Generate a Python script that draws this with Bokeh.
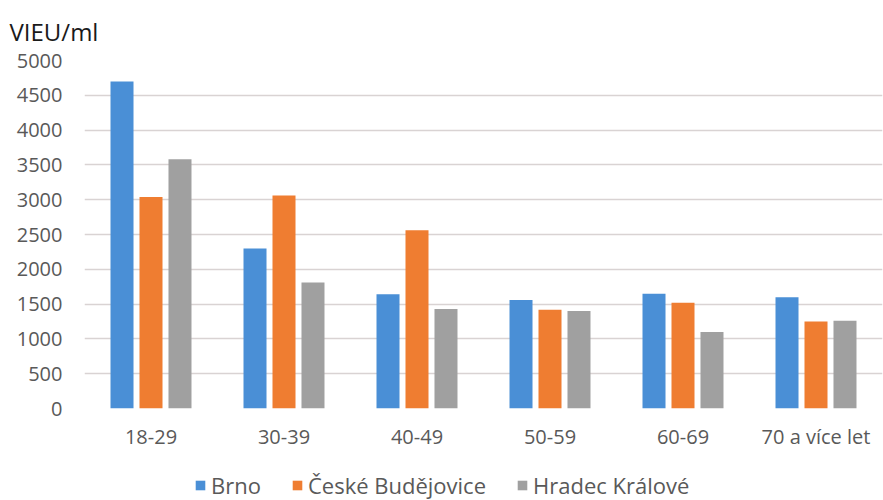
from bokeh.plotting import figure
from bokeh.layouts import column
from bokeh.models import (FactorRange, Range1d, ColumnDataSource, Legend, LegendItem,
                          SingleIntervalTicker)
from bokeh.transform import dodge
from bokeh.embed import file_html
from bokeh.resources import INLINE

# Age groups and mean antibody levels (VIEU/ml) per city
age_groups = ["18-29", "30-39", "40-49", "50-59", "60-69", "70 a více let"]
brno = [4700, 2300, 1640, 1560, 1650, 1600]
ceske_budejovice = [3040, 3060, 2560, 1420, 1520, 1250]
hradec_kralove = [3580, 1810, 1430, 1400, 1100, 1260]

series_names = ["Brno", "České Budějovice", "Hradec Králové"]
series_colors = ["#4A8FD6", "#EF7D31", "#A0A0A0"]

FONT = "Open Sans"
TICK_COLOR = "#595959"

source = ColumnDataSource(dict(
    age=age_groups,
    brno=brno,
    cb=ceske_budejovice,
    hk=hradec_kralove,
))

p = figure(
    width=883, height=452,
    x_range=FactorRange(*age_groups, range_padding=0),
    y_range=Range1d(0, 5000),
    output_backend="svg", toolbar_location=None,
    min_border_left=84, min_border_right=1, min_border_top=58, min_border_bottom=44,
    outline_line_color=None,
    title="VIEU/ml",
)

# unit caption above the value axis
p.title.align = "left"
p.title.offset = -75
p.title.text_font = FONT
p.title.text_font_size = "24px"
p.title.text_font_style = "normal"
p.title.text_color = "#1a1a1a"
p.title.standoff = 25

step = 0.218
bar_w = 0.173
for col, off, color in zip(["brno", "cb", "hk"], [-step, 0, step], series_colors):
    p.vbar(x=dodge("age", off, range=p.x_range), top=col, width=bar_w,
           source=source, fill_color=color, line_color=None)

# grid
p.xgrid.grid_line_color = None
p.ygrid.grid_line_color = "#D9D3D3"
p.ygrid.grid_line_width = 1.5

# y axis
p.yaxis.ticker = SingleIntervalTicker(interval=500)
p.yaxis.axis_line_color = None
p.yaxis.major_tick_line_color = None
p.yaxis.minor_tick_line_color = None
p.yaxis.major_label_text_font = FONT
p.yaxis.major_label_text_font_size = "20px"
p.yaxis.major_label_text_color = TICK_COLOR
p.yaxis.major_label_standoff = 16

# x axis
p.xaxis.axis_line_color = None
p.xaxis.major_tick_line_color = None
p.xaxis.minor_tick_line_color = None
p.xaxis.major_label_text_font = FONT
p.xaxis.major_label_text_font_size = "20px"
p.xaxis.major_label_text_color = TICK_COLOR
p.xaxis.major_label_standoff = 8

# legend strip underneath the chart; swatch glyphs sit outside its visible range
leg = figure(
    width=883, height=48,
    x_range=Range1d(0, 1), y_range=Range1d(0, 1),
    x_axis_type=None, y_axis_type=None,
    output_backend="svg", toolbar_location=None,
    min_border=0, outline_line_color=None,
)
leg.xgrid.grid_line_color = None
leg.ygrid.grid_line_color = None
swatches = []
for color in series_colors:
    swatches.append(leg.vbar(x=[-10], top=[-10], bottom=[-11], width=0.1,
                             fill_color=color, line_color=None))

legend = Legend(
    items=[LegendItem(label=n, renderers=[r]) for n, r in zip(series_names, swatches)],
    orientation="horizontal", location=(110, 0),
    label_text_font=FONT, label_text_font_size="22px", label_text_color=TICK_COLOR,
    glyph_width=12, glyph_height=12, spacing=30, label_standoff=5,
    border_line_color=None, background_fill_alpha=0, padding=0, margin=0,
)
leg.add_layout(legend)

layout = column(p, leg, spacing=0)
open("out.html", "w").write(file_html(layout, INLINE))
